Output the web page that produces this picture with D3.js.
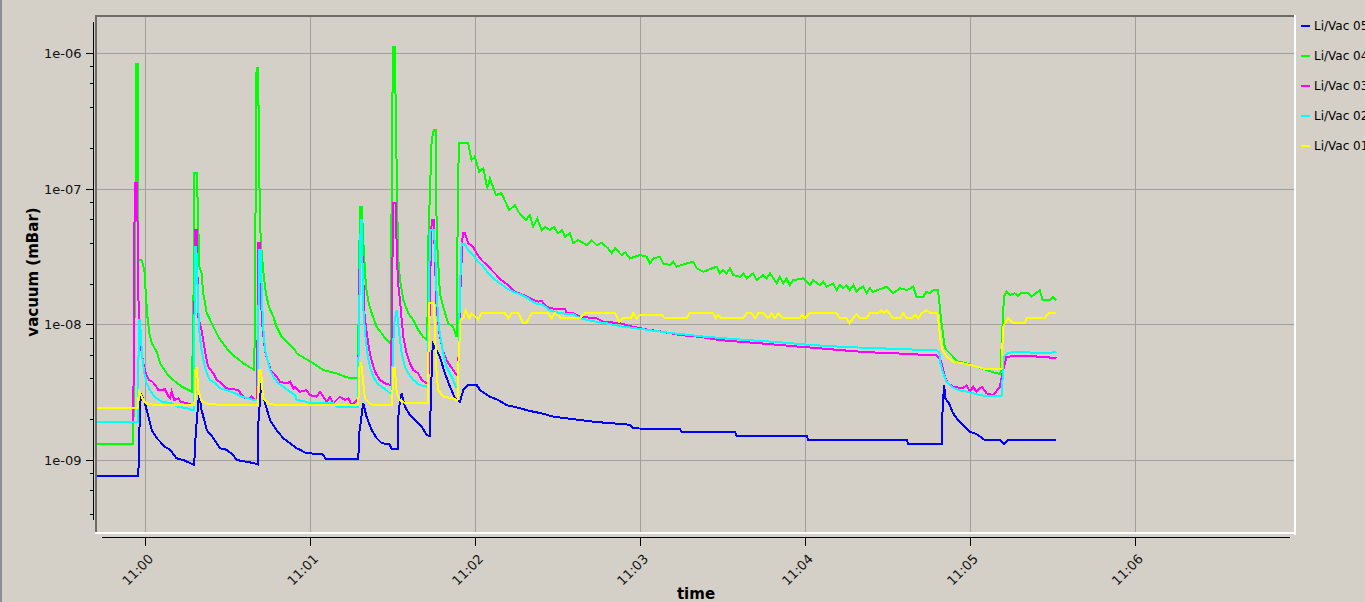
<!DOCTYPE html>
<html><head><meta charset="utf-8">
<script src="https://cdn.jsdelivr.net/npm/d3@7"></script>
<style>
html,body{margin:0;padding:0;background:#d4d0c8;overflow:hidden;}
svg{display:block;}
</style></head><body>
<svg id="c" width="1365" height="602"></svg>
<script>
// ---------- DATA (seconds after 11:00:00, pressure in mBar) ----------
const seriesNames = ["Li/Vac 05", "Li/Vac 04", "Li/Vac 03", "Li/Vac 02", "Li/Vac 01"];
const xTickLabels = ["11:00", "11:01", "11:02", "11:03", "11:04", "11:05", "11:06"];
const yTickValues = [1e-6, 1e-7, 1e-8, 1e-9];
const yTickLabels = ["1e-06", "1e-07", "1e-08", "1e-09"];

const vac05 = [[-18,7.6e-10],[-2.6,7.6e-10],[-2.3,1.5e-9],[-1.7,3.1e-9],[-0.2,2.62e-9],[2.3,1.66e-9],[4.1,1.45e-9],[7.1,1.25e-9],[8.9,1.19e-9],[11.3,1.03e-9],[13.7,1.0e-9],[16.2,0.95e-9],[17.7,0.92e-9],[18.3,1.6e-9],[19.5,3.1e-9],[20.4,2.34e-9],[22.3,1.66e-9],[24.7,1.45e-9],[27.1,1.22e-9],[29.5,1.19e-9],[31.9,1.09e-9],[33.2,1.0e-9],[36.8,0.97e-9],[39.2,0.95e-9],[40.8,0.93e-9],[41.0,1.8e-9],[42.1,3.68e-9],[42.8,2.93e-9],[45.3,1.97e-9],[47.7,1.66e-9],[50.1,1.45e-9],[52.6,1.33e-9],[55.0,1.22e-9],[56.2,1.19e-9],[58.6,1.12e-9],[64.1,1.11e-9],[65.9,1.01e-9],[77.4,1.01e-9],[77.8,1.6e-9],[79.2,2.62e-9],[80.4,2.09e-9],[82.3,1.66e-9],[84.1,1.45e-9],[85.9,1.33e-9],[88.7,1.31e-9],[89.5,1.21e-9],[91.7,1.21e-9],[91.9,2.0e-9],[92.6,2.77e-9],[93.2,3.1e-9],[94.4,2.47e-9],[96.2,2.15e-9],[98.0,1.97e-9],[100.5,1.76e-9],[102.3,1.53e-9],[103.5,1.5e-9],[103.8,3.0e-9],[104.5,7.26e-9],[107.1,5.78e-9],[108.9,4.36e-9],[110.8,3.47e-9],[112.6,2.85e-9],[114.4,2.69e-9],[115.6,3.28e-9],[117.4,3.57e-9],[120.5,3.57e-9],[121.7,3.28e-9],[125.3,2.93e-9],[128.3,2.77e-9],[131.4,2.54e-9],[136.2,2.41e-9],[139.8,2.3e-9],[144.1,2.21e-9],[148.3,2.09e-9],[155.6,2.0e-9],[163.5,1.91e-9],[176.2,1.82e-9],[177.3,1.71e-9],[194.4,1.69e-9],[195.0,1.62e-9],[214.4,1.62e-9],[215.0,1.51e-9],[240.5,1.51e-9],[241.1,1.41e-9],[276.9,1.41e-9],[277.4,1.32e-9],[289.6,1.32e-9],[289.9,2.2e-9],[290.5,3.57e-9],[291.0,2.85e-9],[292.3,2.62e-9],[293.8,2.21e-9],[295.6,1.97e-9],[298.1,1.76e-9],[299.9,1.62e-9],[301.7,1.57e-9],[302.9,1.53e-9],[305.3,1.4e-9],[310.8,1.4e-9],[312.2,1.31e-9],[313.8,1.4e-9],[331.4,1.4e-9]];

const vac04 = [[-18,1.31e-9],[-4.4,1.31e-9],[-4.2,1.14e-8],[-3.7,1.14e-8],[-3.5,8.4e-7],[-2.9,8.4e-7],[-2.8,1.1e-7],[-2.6,2.98e-8],[-1.4,2.98e-8],[-0.4,2.52e-8],[0.1,1.7e-8],[0.7,1.14e-8],[1.4,8.6e-9],[2.3,7.26e-9],[4.1,6.3e-9],[5.3,5.17e-9],[7.7,4.36e-9],[10.1,3.89e-9],[13.2,3.47e-9],[16.8,3.19e-9],[17.4,1.05e-8],[17.8,1.3e-7],[18.7,1.3e-7],[19.6,2.67e-8],[20.4,2.38e-8],[21.0,1.7e-8],[22.3,1.21e-8],[24.1,1.02e-8],[26.5,8.1e-9],[29.5,6.67e-9],[32.6,5.78e-9],[35.6,5.17e-9],[38.6,4.74e-9],[39.6,4.61e-9],[39.8,1.51e-8],[40.4,7.74e-7],[41.0,7.74e-7],[41.3,1.46e-7],[41.9,4.19e-8],[42.8,2.52e-8],[43.8,1.7e-8],[44.9,1.35e-8],[46.5,1.14e-8],[47.7,9.6e-9],[49.5,8.1e-9],[51.9,7.26e-9],[54.4,6.47e-9],[55.0,6.12e-9],[58.0,5.62e-9],[61.0,5.17e-9],[64.7,4.61e-9],[69.5,4.36e-9],[73.2,4.07e-9],[77.2,4.0e-9],[77.5,1.02e-8],[78.0,7.38e-8],[78.7,7.38e-8],[79.2,4.19e-8],[80.2,1.9e-8],[81.2,1.43e-8],[82.3,1.21e-8],[84.1,9.6e-9],[85.9,8.6e-9],[87.7,7.67e-9],[89.2,7.26e-9],[89.4,3.74e-8],[90.0,1.12e-6],[90.9,1.12e-6],[91.0,2.29e-7],[91.1,3.6e-7],[91.4,1.23e-7],[91.9,3.16e-8],[92.6,2.12e-8],[93.8,1.51e-8],[95.6,1.21e-8],[97.4,1.08e-8],[99.2,9.1e-9],[101.0,8.1e-9],[102.5,7.67e-9],[102.9,4.19e-8],[104.1,2.29e-7],[104.9,2.72e-7],[105.7,2.72e-7],[105.9,4.7e-8],[107.1,1.7e-8],[108.3,1.35e-8],[110.1,1.02e-8],[111.9,9.6e-9],[113.2,8.1e-9],[113.6,7.4e-8],[114.0,2.17e-7],[117.4,2.17e-7],[118.6,1.63e-7],[119.8,1.73e-7],[121.4,1.34e-7],[122.9,1.42e-7],[124.3,1.01e-7],[125.3,1.19e-7],[127.5,9.0e-8],[129.5,9.3e-8],[132.3,6.98e-8],[134.4,7.6e-8],[135.6,6.78e-8],[138.4,5.89e-8],[139.8,6.41e-8],[141.0,5.25e-8],[142.5,6.06e-8],[144.1,4.97e-8],[145.3,5.25e-8],[147.1,4.97e-8],[148.6,5.25e-8],[150.1,4.7e-8],[151.6,4.97e-8],[152.6,4.43e-8],[154.4,4.7e-8],[155.6,3.96e-8],[157.4,4.19e-8],[160.5,3.85e-8],[162.3,4.19e-8],[164.1,3.85e-8],[165.9,4.0e-8],[168.3,3.64e-8],[169.6,3.34e-8],[170.8,3.64e-8],[173.2,3.25e-8],[174.5,3.4e-8],[176.2,3.07e-8],[179.8,3.25e-8],[182.3,3.16e-8],[183.5,2.82e-8],[184.7,3.07e-8],[187.1,3.16e-8],[188.3,2.82e-8],[190.8,2.74e-8],[192.0,2.9e-8],[193.2,2.67e-8],[196.9,2.82e-8],[199.3,2.9e-8],[200.5,2.59e-8],[202.9,2.45e-8],[207.8,2.67e-8],[209.0,2.38e-8],[210.2,2.52e-8],[211.4,2.38e-8],[212.6,2.59e-8],[213.8,2.31e-8],[216.3,2.25e-8],[217.5,2.38e-8],[218.7,2.19e-8],[221.1,2.38e-8],[222.3,2.12e-8],[224.7,2.31e-8],[225.9,2.19e-8],[227.2,2.38e-8],[229.6,2.01e-8],[230.8,2.25e-8],[232.0,2.01e-8],[233.2,2.19e-8],[234.4,1.95e-8],[235.6,2.12e-8],[239.3,2.19e-8],[241.7,1.95e-8],[242.9,2.12e-8],[245.3,1.95e-8],[246.5,2.07e-8],[247.8,1.9e-8],[250.2,2.01e-8],[251.4,1.79e-8],[252.6,1.95e-8],[253.8,1.85e-8],[255.0,1.95e-8],[256.2,1.79e-8],[257.5,1.95e-8],[258.7,1.74e-8],[259.9,1.85e-8],[261.1,1.9e-8],[262.3,1.7e-8],[263.5,1.85e-8],[264.7,1.74e-8],[269.6,1.9e-8],[272.0,1.7e-8],[274.5,1.85e-8],[277.0,1.79e-8],[279.3,1.9e-8],[280.5,1.6e-8],[282.9,1.6e-8],[284.1,1.74e-8],[285.3,1.7e-8],[286.6,1.79e-8],[288.3,1.79e-8],[288.8,1.43e-8],[289.6,1.02e-8],[290.8,6.67e-9],[292.0,6.3e-9],[293.8,5.78e-9],[295.6,5.31e-9],[298.7,5.17e-9],[302.3,4.88e-9],[305.9,4.61e-9],[309.6,4.36e-9],[311.0,4.31e-9],[311.8,1.02e-8],[312.3,1.6e-8],[313.2,1.74e-8],[314.4,1.65e-8],[316.2,1.7e-8],[317.4,1.62e-8],[318.8,1.72e-8],[321.0,1.72e-8],[322.3,1.6e-8],[325.3,1.79e-8],[326.4,1.51e-8],[329.0,1.51e-8],[330.2,1.6e-8],[331.4,1.51e-8]];

const vac03 = [[-18,1.92e-9],[-4.4,1.92e-9],[-4.2,2.82e-8],[-3.8,1.1e-7],[-3.0,1.1e-7],[-2.8,2.98e-8],[-2.4,1.02e-8],[-1.7,6.85e-9],[-0.8,5.17e-9],[0.1,4.36e-9],[1.3,3.89e-9],[2.5,3.78e-9],[3.5,3.57e-9],[4.7,3.28e-9],[7.1,3.32e-9],[8.1,3.01e-9],[8.9,2.85e-9],[9.5,3.19e-9],[10.5,2.77e-9],[11.9,2.85e-9],[12.9,2.69e-9],[15.0,2.62e-9],[16.9,2.55e-9],[17.6,2.55e-9],[18.0,4.97e-8],[18.6,4.97e-8],[19.2,1.14e-8],[20.4,9.1e-9],[21.0,7.67e-9],[22.0,5.78e-9],[22.8,4.88e-9],[24.7,4.36e-9],[25.9,3.89e-9],[27.7,3.68e-9],[29.5,3.38e-9],[33.8,3.28e-9],[35.0,3.01e-9],[36.2,2.85e-9],[38.0,2.85e-9],[38.6,2.93e-9],[39.8,2.77e-9],[40.6,2.77e-9],[41.0,3.96e-8],[41.6,3.96e-8],[42.3,1.08e-8],[42.8,8.6e-9],[43.5,6.3e-9],[44.4,5.46e-9],[45.5,4.61e-9],[46.7,4.36e-9],[47.7,4.11e-9],[48.9,3.78e-9],[51.4,3.68e-9],[52.6,3.78e-9],[53.8,3.38e-9],[54.4,3.47e-9],[56.2,3.19e-9],[58.6,3.28e-9],[59.8,3.01e-9],[62.3,2.93e-9],[63.5,3.19e-9],[65.9,2.69e-9],[67.1,2.93e-9],[68.3,2.62e-9],[70.7,2.93e-9],[72.6,2.77e-9],[73.8,2.85e-9],[75.0,2.54e-9],[76.8,2.77e-9],[77.3,2.77e-9],[78.0,4.5e-8],[78.7,4.5e-8],[79.7,1.14e-8],[80.7,8.1e-9],[81.6,6.12e-9],[82.9,4.88e-9],[83.8,4.36e-9],[85.3,3.89e-9],[87.1,3.68e-9],[89.3,3.57e-9],[90.1,7.82e-8],[91.1,7.82e-8],[91.4,3.34e-8],[91.9,2.0e-8],[92.6,1.51e-8],[93.2,1.08e-8],[93.8,8.1e-9],[95.0,6.12e-9],[96.2,5.17e-9],[97.4,4.61e-9],[99.2,4.36e-9],[100.5,3.89e-9],[102.3,3.68e-9],[102.9,3.68e-9],[103.5,1.9e-8],[104.1,5.89e-8],[104.9,5.89e-8],[105.3,2.98e-8],[105.9,1.35e-8],[106.9,8.6e-9],[108.1,6.47e-9],[109.5,5.46e-9],[110.7,5.0e-9],[111.9,4.61e-9],[113.2,4.24e-9],[113.7,4.24e-9],[114.4,1.5e-8],[115.4,4.7e-8],[116.2,4.7e-8],[117.4,3.96e-8],[119.2,3.74e-8],[120.5,3.34e-8],[122.3,2.98e-8],[124.7,2.67e-8],[127.1,2.38e-8],[129.5,2.12e-8],[132.0,1.95e-8],[134.4,1.74e-8],[137.4,1.65e-8],[139.8,1.56e-8],[142.9,1.47e-8],[144.1,1.49e-8],[145.9,1.35e-8],[148.3,1.31e-8],[152.6,1.31e-8],[153.2,1.21e-8],[155.6,1.21e-8],[158.0,1.14e-8],[164.1,1.11e-8],[166.5,1.05e-8],[172.6,1.02e-8],[177.4,9.6e-9],[183.5,9.1e-9],[187.1,8.9e-9],[194.4,8.35e-9],[201.7,8.1e-9],[208.9,7.67e-9],[216.2,7.45e-9],[223.5,7.26e-9],[230.8,7.05e-9],[238.0,6.85e-9],[245.3,6.67e-9],[252.6,6.47e-9],[259.9,6.3e-9],[267.2,6.18e-9],[274.5,6.1e-9],[287.8,5.9e-9],[289.0,5.6e-9],[289.6,5.17e-9],[290.8,4.11e-9],[292.0,3.68e-9],[293.8,3.47e-9],[297.4,3.38e-9],[298.7,3.57e-9],[299.9,3.19e-9],[301.1,3.47e-9],[302.3,3.19e-9],[304.2,3.47e-9],[306.0,3.1e-9],[308.4,3.01e-9],[310.8,3.47e-9],[311.9,4.5e-9],[313.2,5.78e-9],[318.1,5.85e-9],[326.5,5.78e-9],[331.4,5.62e-9]];

const vac02 = [[-18,1.92e-9],[-2.8,1.92e-9],[-2.6,4.36e-9],[-2.4,1.08e-8],[-2.0,1.08e-8],[-1.6,7.67e-9],[-1.2,5.78e-9],[-0.4,4.36e-9],[0.4,3.68e-9],[1.6,3.28e-9],[2.8,3.01e-9],[4.1,2.85e-9],[5.9,2.69e-9],[9.5,2.62e-9],[10.7,2.54e-9],[11.9,2.47e-9],[15.0,2.41e-9],[16.8,2.34e-9],[17.6,2.34e-9],[18.0,3.74e-8],[18.5,3.74e-8],[18.7,2.67e-8],[19.5,9.1e-9],[20.4,6.47e-9],[21.3,5.17e-9],[22.3,4.36e-9],[23.5,3.89e-9],[25.3,3.68e-9],[27.1,3.38e-9],[29.5,3.28e-9],[32.6,3.1e-9],[35.0,2.93e-9],[37.4,2.85e-9],[39.2,2.77e-9],[40.8,2.77e-9],[41.3,3.54e-8],[41.9,3.54e-8],[42.3,1.7e-8],[42.8,9.6e-9],[43.5,6.47e-9],[44.4,5.46e-9],[45.3,4.61e-9],[46.5,4.11e-9],[48.3,3.68e-9],[50.1,3.47e-9],[52.6,3.19e-9],[54.4,3.01e-9],[55.0,2.77e-9],[58.6,2.69e-9],[59.8,2.62e-9],[68.3,2.62e-9],[69.5,2.47e-9],[77.2,2.47e-9],[78.3,5.89e-8],[78.7,5.89e-8],[79.2,1.35e-8],[79.9,8.6e-9],[80.7,6.12e-9],[81.6,4.88e-9],[82.9,4.11e-9],[84.3,3.68e-9],[85.9,3.47e-9],[87.7,3.28e-9],[88.9,3.1e-9],[89.5,3.1e-9],[90.4,1.0e-8],[91.4,1.27e-8],[92.3,8.6e-9],[93.2,6.12e-9],[94.4,4.88e-9],[95.6,4.36e-9],[97.4,3.89e-9],[99.8,3.57e-9],[102.6,3.47e-9],[103.5,4.97e-8],[104.9,4.97e-8],[105.3,3.74e-8],[105.9,1.7e-8],[106.7,9.6e-9],[108.3,6.12e-9],[109.5,4.88e-9],[111.4,4.11e-9],[112.9,3.47e-9],[113.7,3.47e-9],[114.4,1.79e-8],[115.0,3.96e-8],[116.2,3.9e-8],[117.4,3.54e-8],[119.2,3.25e-8],[121.0,2.9e-8],[122.9,2.67e-8],[124.7,2.38e-8],[126.5,2.19e-8],[128.9,2.01e-8],[131.4,1.85e-8],[133.8,1.74e-8],[136.8,1.65e-8],[139.2,1.56e-8],[141.7,1.43e-8],[144.7,1.39e-8],[147.1,1.27e-8],[150.8,1.21e-8],[155.6,1.19e-8],[158.0,1.11e-8],[163.5,1.05e-8],[167.7,1.02e-8],[172.6,9.7e-9],[178.6,9.35e-9],[184.7,9.0e-9],[192.0,8.6e-9],[198.0,8.35e-9],[204.1,8.1e-9],[211.4,7.88e-9],[218.7,7.67e-9],[228.3,7.45e-9],[238.0,7.17e-9],[247.8,6.93e-9],[257.4,6.78e-9],[267.1,6.67e-9],[276.8,6.55e-9],[287.8,6.45e-9],[288.8,6.2e-9],[289.2,5.17e-9],[290.2,4.36e-9],[291.4,3.78e-9],[293.2,3.47e-9],[295.6,3.28e-9],[298.7,3.19e-9],[302.3,3.06e-9],[305.9,2.96e-9],[311.4,2.96e-9],[311.8,4.0e-9],[312.2,5.78e-9],[313.8,6.18e-9],[318.1,6.3e-9],[322.9,6.18e-9],[326.5,6.12e-9],[331.4,6.25e-9]];

const vac01 = [[-18,2.43e-9],[-2.8,2.43e-9],[-2.4,3.19e-9],[-1.6,3.0e-9],[-0.8,2.77e-9],[0.4,2.62e-9],[3.5,2.54e-9],[17.8,2.54e-9],[18.2,4.74e-9],[18.7,4.74e-9],[19.2,3.28e-9],[20.2,2.77e-9],[21.6,2.62e-9],[27.7,2.54e-9],[40.9,2.54e-9],[41.3,4.6e-9],[42.0,4.6e-9],[42.8,2.85e-9],[44.7,2.62e-9],[47.1,2.54e-9],[77.4,2.54e-9],[77.9,5.17e-9],[78.5,5.17e-9],[79.8,2.85e-9],[81.6,2.62e-9],[82.9,2.54e-9],[89.7,2.54e-9],[90.1,4.74e-9],[90.7,4.74e-9],[91.4,3.1e-9],[92.6,2.77e-9],[94.4,2.62e-9],[102.6,2.62e-9],[103.3,1.43e-8],[104.9,1.43e-8],[105.3,9.1e-9],[105.9,4.36e-9],[106.5,3.28e-9],[108.3,2.93e-9],[111.9,2.85e-9],[113.5,2.75e-9],[113.8,5.0e-9],[114.6,1.08e-8],[115.6,1.11e-8],[116.5,1.27e-8],[117.8,1.11e-8],[118.6,1.21e-8],[121.0,1.09e-8],[122.3,1.21e-8],[130.7,1.21e-8],[132.0,1.11e-8],[133.2,1.21e-8],[135.6,1.21e-8],[136.6,1.11e-8],[137.4,1.02e-8],[138.4,1.02e-8],[140.5,1.21e-8],[146.5,1.21e-8],[147.7,1.11e-8],[148.9,1.21e-8],[151.4,1.11e-8],[158.0,1.11e-8],[159.8,1.21e-8],[170.8,1.21e-8],[172.3,1.05e-8],[173.6,1.11e-8],[176.5,1.11e-8],[177.4,1.21e-8],[178.6,1.11e-8],[179.8,1.18e-8],[187.7,1.18e-8],[188.9,1.11e-8],[196.8,1.11e-8],[198.0,1.21e-8],[206.5,1.21e-8],[207.5,1.11e-8],[208.3,1.18e-8],[209.5,1.11e-8],[217.4,1.11e-8],[218.7,1.21e-8],[220.5,1.21e-8],[221.7,1.11e-8],[222.9,1.21e-8],[224.7,1.21e-8],[226.5,1.11e-8],[227.8,1.21e-8],[229.0,1.11e-8],[230.2,1.21e-8],[232.0,1.11e-8],[238.0,1.11e-8],[238.9,1.18e-8],[239.9,1.11e-8],[241.7,1.21e-8],[251.4,1.21e-8],[252.6,1.11e-8],[255.0,1.11e-8],[256.2,1.02e-8],[257.4,1.11e-8],[258.6,1.18e-8],[259.9,1.11e-8],[262.3,1.11e-8],[263.5,1.21e-8],[266.5,1.21e-8],[267.8,1.27e-8],[268.6,1.21e-8],[269.6,1.27e-8],[272.0,1.11e-8],[274.5,1.11e-8],[275.6,1.21e-8],[276.9,1.11e-8],[278.7,1.11e-8],[279.9,1.18e-8],[281.1,1.11e-8],[282.4,1.21e-8],[284.2,1.27e-8],[285.4,1.21e-8],[288.0,1.21e-8],[288.4,1.1e-8],[289.0,8.1e-9],[289.9,6.47e-9],[291.4,5.78e-9],[293.8,5.31e-9],[297.4,5.17e-9],[300.5,5.0e-9],[303.5,4.81e-9],[305.9,4.66e-9],[311.4,4.66e-9],[312.0,9.6e-9],[312.6,1.02e-8],[313.8,1.11e-8],[315.6,1.02e-8],[319.9,1.02e-8],[320.5,1.11e-8],[327.1,1.11e-8],[328.4,1.21e-8],[331.4,1.21e-8]];

const seriesData = [vac05, vac04, vac03, vac02, vac01];
const seriesColors = ["#0000ff", "#00ff00", "#ff00ff", "#00ffff", "#ffff00"];

// ---------- CHART ----------
const svg = d3.select("#c");
const plot = {left: 97, right: 1294, top: 16, bottom: 533};
const parseT = d3.timeParse("%H:%M");
const base = parseT("11:00");
const t = s => new Date(base.getTime() + s * 1000);

const x = d3.scaleTime().domain([t(-17.64), t(417.8)]).range([plot.left, plot.right]);
const y = d3.scaleLog().domain([1e-9, 1e-6]).range([460, 53.3]);

// left decorative strip
svg.append("rect").attr("x", 0).attr("y", 0).attr("width", 2).attr("height", 602).attr("fill", "#8c8c9c");

// grid
const grid = svg.append("g").attr("shape-rendering", "crispEdges");
grid.selectAll("line.gy").data(yTickValues).join("line")
  .attr("x1", plot.left).attr("x2", plot.right)
  .attr("y1", d => Math.round(y(d)) + 0.5).attr("y2", d => Math.round(y(d)) + 0.5)
  .attr("stroke", "#a09f9c").attr("stroke-width", 1);
const xTicks = xTickLabels.map(parseT);
grid.selectAll("line.gx").data(xTicks).join("line")
  .attr("y1", plot.top).attr("y2", plot.bottom)
  .attr("x1", d => Math.round(x(d)) + 0.5).attr("x2", d => Math.round(x(d)) + 0.5)
  .attr("stroke", "#a09f9c").attr("stroke-width", 1);

// data lines
svg.append("clipPath").attr("id", "clip").append("rect")
  .attr("x", plot.left).attr("y", plot.top)
  .attr("width", plot.right - plot.left).attr("height", plot.bottom - plot.top);
const line = d3.line().x(d => x(t(d[0]))).y(d => y(d[1]));
svg.append("g").attr("clip-path", "url(#clip)")
  .selectAll("path").data(seriesData).join("path")
  .attr("d", line)
  .attr("fill", "none")
  .attr("stroke", (d, i) => seriesColors[i])
  .attr("stroke-width", 2)
  .attr("stroke-linejoin", "miter")
  .attr("shape-rendering", "crispEdges");

// frame (sunken look)
svg.append("rect").attr("x", 95).attr("y", 15).attr("width", 1200).attr("height", 2).attr("fill", "#6d6c69");
svg.append("rect").attr("x", 95).attr("y", 15).attr("width", 2).attr("height", 519).attr("fill", "#6d6c69");
svg.append("rect").attr("x", 1294).attr("y", 15).attr("width", 2).attr("height", 520).attr("fill", "#ffffff");
svg.append("rect").attr("x", 95).attr("y", 532).attr("width", 1201).attr("height", 2).attr("fill", "#ffffff");

// y axis
const yAxisG = svg.append("g").attr("transform", "translate(93.5,0)");
const yMinor = [];
[1e-10, 1e-9, 1e-8, 1e-7, 1e-6].forEach(dec => [2, 4, 6, 8].forEach(m => {
  const v = dec * m; const py = y(v);
  if (py >= 22 && py <= 520) yMinor.push(v);
}));
yAxisG.append("g").call(d3.axisLeft(y).tickValues(yMinor).tickSize(4).tickFormat(""))
  .call(g => g.select(".domain").remove());
yAxisG.append("g").call(d3.axisLeft(y).tickValues(yTickValues).tickSize(8).tickPadding(4)
    .tickFormat((d, i) => yTickLabels[i]))
  .call(g => g.select(".domain").remove())
  .call(g => g.selectAll("text").attr("font-family", "DejaVu Sans").attr("font-size", 13).attr("fill", "#111"));
yAxisG.append("line").attr("x1", 0).attr("x2", 0).attr("y1", 22).attr("y2", 520).attr("stroke", "#000");
yAxisG.selectAll("line").attr("shape-rendering", "crispEdges");

// x axis
const xAxisG = svg.append("g").attr("transform", "translate(0,537.5)");
xAxisG.call(d3.axisBottom(x).tickValues(xTicks).tickSize(8).tickFormat(d3.timeFormat("%H:%M")))
  .call(g => g.select(".domain").remove())
  .call(g => g.selectAll("text")
    .attr("x", 0).attr("y", 0).attr("dy", "0.35em")
    .attr("text-anchor", "end")
    .attr("transform", "translate(5,19) rotate(-45)")
    .attr("font-family", "DejaVu Sans").attr("font-size", 13).attr("fill", "#111"));
xAxisG.append("line").attr("x1", 102).attr("x2", 1290).attr("y1", 0).attr("y2", 0).attr("stroke", "#000");
xAxisG.selectAll("line").attr("shape-rendering", "crispEdges");

// axis titles
svg.append("text").attr("transform", "translate(37.5,272) rotate(-90)")
  .attr("text-anchor", "middle").attr("font-family", "DejaVu Sans").attr("font-weight", "bold")
  .attr("font-size", 15).attr("fill", "#000").text("vacuum (mBar)");
svg.append("text").attr("x", 696).attr("y", 599)
  .attr("text-anchor", "middle").attr("font-family", "DejaVu Sans").attr("font-weight", "bold")
  .attr("font-size", 15).attr("fill", "#000").text("time");

// legend (text runs past the window edge, as in the reference)
const leg = svg.append("g").selectAll("g").data(seriesNames).join("g")
  .attr("transform", (d, i) => `translate(0,${26 + 30 * i})`);
leg.append("line").attr("x1", 1301).attr("x2", 1310).attr("y1", 0).attr("y2", 0)
  .attr("stroke", (d, i) => seriesColors[i]).attr("stroke-width", 2).attr("shape-rendering", "crispEdges");
leg.append("text").attr("x", 1314).attr("y", 0).attr("dy", "0.35em")
  .attr("font-family", "DejaVu Sans").attr("font-size", 12).attr("fill", "#000").text(d => d);
</script>
</body></html>
